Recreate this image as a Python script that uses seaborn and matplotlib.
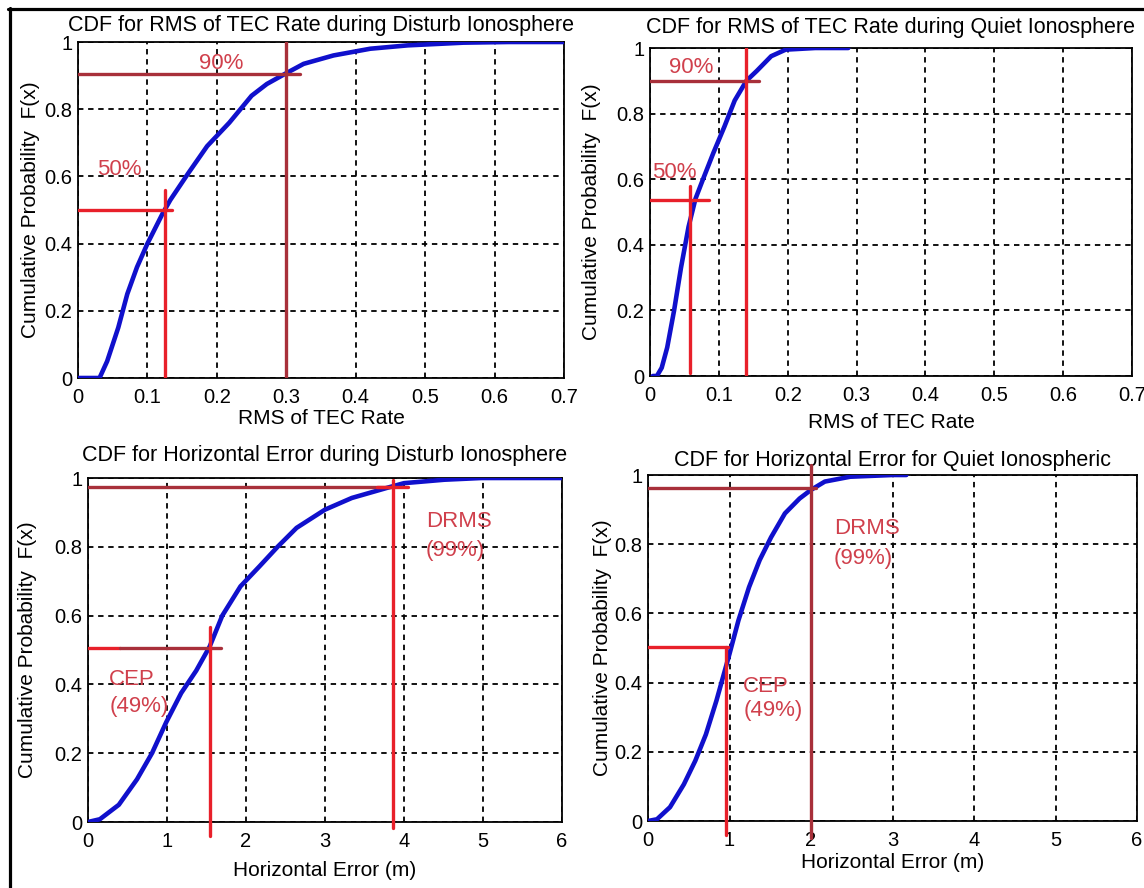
import numpy as np
import pandas as pd
import matplotlib
matplotlib.use("Agg")
import matplotlib.pyplot as plt
from matplotlib.lines import Line2D
import seaborn as sns

# ---------------- data ----------------
# Top-left: CDF of RMS of TEC rate, disturbed ionosphere
tec_dist_x = [0.0, 0.031, 0.042, 0.058, 0.071, 0.085, 0.100, 0.122, 0.133, 0.159, 0.186,
              0.218, 0.250, 0.272, 0.298, 0.325, 0.368, 0.421, 0.475, 0.555, 0.620, 0.700]
tec_dist_y = [0.0, 0.0, 0.05, 0.15, 0.25, 0.33, 0.40, 0.49, 0.53, 0.61, 0.69,
              0.76, 0.84, 0.875, 0.905, 0.935, 0.96, 0.98, 0.99, 0.998, 1.0, 1.0]
# Top-right: CDF of RMS of TEC rate, quiet ionosphere
tec_quiet_x = [0.004, 0.010, 0.017, 0.025, 0.035, 0.045, 0.056, 0.066, 0.077, 0.092, 0.108,
               0.123, 0.140, 0.155, 0.176, 0.197, 0.240, 0.288]
tec_quiet_y = [0.0, 0.0, 0.025, 0.087, 0.20, 0.33, 0.455, 0.54, 0.60, 0.68, 0.76,
               0.84, 0.90, 0.93, 0.975, 0.995, 1.0, 1.0]
# Bottom-left: CDF of horizontal error, disturbed ionosphere
he_dist_x = [0.0, 0.15, 0.39, 0.62, 0.81, 0.99, 1.18, 1.37, 1.54, 1.70, 1.93, 2.17, 2.40,
             2.64, 3.00, 3.34, 3.81, 4.00, 4.51, 4.98, 6.00]
he_dist_y = [0.0, 0.008, 0.05, 0.124, 0.20, 0.29, 0.375, 0.44, 0.51, 0.60, 0.685, 0.743, 0.80,
             0.855, 0.908, 0.942, 0.973, 0.985, 0.995, 1.0, 1.0]
# Bottom-right: CDF of horizontal error, quiet ionosphere
he_quiet_x = [0.0, 0.11, 0.27, 0.44, 0.58, 0.71, 0.84, 1.00, 1.11, 1.24, 1.37, 1.51, 1.68,
              1.86, 2.00, 2.17, 2.48, 3.00, 3.17]
he_quiet_y = [0.0, 0.005, 0.04, 0.106, 0.174, 0.25, 0.348, 0.483, 0.58, 0.676, 0.754, 0.82, 0.889,
              0.932, 0.957, 0.981, 0.995, 1.0, 1.0]

# Reference (percentile) markers: (x value, y value)
tec_dist_p50 = (0.125, 0.50)
tec_dist_p90 = (0.300, 0.905)
tec_quiet_p50 = (0.0575, 0.538)
tec_quiet_p90 = (0.1395, 0.898)
he_dist_cep = (1.545, 0.507)
he_dist_drms = (3.855, 0.974)
he_quiet_cep = (0.96, 0.504)
he_quiet_drms = (2.00, 0.961)

titles = ["CDF for RMS of TEC Rate during Disturb Ionosphere",
          "CDF for RMS of TEC Rate during Quiet Ionosphere",
          "CDF for Horizontal Error during Disturb Ionosphere",
          "CDF for Horizontal Error for Quiet Ionospheric"]
xlabels = ["RMS of TEC Rate", "RMS of TEC Rate", "Horizontal Error (m)", "Horizontal Error (m)"]
ylabel = "Cumulative Probability  F(x)"
tec_ticks = [0, 0.1, 0.2, 0.3, 0.4, 0.5, 0.6, 0.7]
tec_ticklabels = ["0", "0.1", "0.2", "0.3", "0.4", "0.5", "0.6", "0.7"]
he_ticks = [0, 1, 2, 3, 4, 5, 6]
he_ticklabels = ["0", "1", "2", "3", "4", "5", "6"]
y_ticks = [0, 0.2, 0.4, 0.6, 0.8, 1.0]
y_ticklabels = ["0", "0.2", "0.4", "0.6", "0.8", "1"]

# ---------------- style ----------------
sns.set_theme(style="white")
plt.rcParams['font.family'] = ['Liberation Sans', 'DejaVu Sans']

W, H = 1144, 888
fig = plt.figure(figsize=(W / 100, H / 100), dpi=100)
fig.patch.set_facecolor("white")

BLUE = "#1010CC"
RED = "#E8202A"
DRED = "#A8303A"
TXT = "#D0404C"
FS_TICK = 14.5
FS_LAB = 15
FS_TITLE = 15.5
FS_ANN = 16

# pixel boxes (left, top, right, bottom), title y, xlabel y, ylabel x
boxes = [
    dict(box=(78, 42, 564, 378), ty=25, xl=418, yl=31),
    dict(box=(650, 48, 1132, 376), ty=27, xl=422, yl=591),
    dict(box=(88, 478, 562, 822), ty=455, xl=870, yl=28),
    dict(box=(648, 475, 1137, 821), ty=460, xl=862, yl=603),
]


def make_ax(spec):
    l, t, r, b = spec["box"]
    ax = fig.add_axes([l / W, 1 - b / H, (r - l) / W, (b - t) / H])
    hpx = b - t
    wpx = r - l
    ax.set_facecolor("white")
    for s in ax.spines.values():
        s.set_color("black")
        s.set_linewidth(1.3)
    ax.grid(True, color="black", linestyle=(0, (3, 2.6)), linewidth=1.3)
    ax.set_axisbelow(True)
    ax.tick_params(axis="both", direction="in", length=0, labelsize=FS_TICK, colors="black")
    ax.tick_params(axis="x", pad=7)
    ax.tick_params(axis="y", pad=4)
    ax._title_y = 1 + (t - spec["ty"]) / hpx
    ax._xl_y = -(spec["xl"] - b) / hpx
    ax._yl_x = -(l - spec["yl"]) / wpx
    return ax


def finish(ax, title, xlabel, xticks, xticklabels, xmax):
    ax.set_xlim(0, xmax)
    ax.set_ylim(0, 1)
    ax.set_xticks(xticks)
    ax.set_xticklabels(xticklabels)
    ax.set_yticks(y_ticks)
    ax.set_yticklabels(y_ticklabels)
    ax.text(0.5, ax._title_y, title, transform=ax.transAxes, fontsize=FS_TITLE,
            ha="center", va="center", color="black")
    ax.set_xlabel(xlabel, fontsize=FS_LAB, color="black")
    ax.xaxis.set_label_coords(0.5, ax._xl_y)
    ax.xaxis.label.set_va("center")
    ax.set_ylabel(ylabel, fontsize=FS_LAB, color="black")
    ax.yaxis.set_label_coords(ax._yl_x, 0.5)
    ax.yaxis.label.set_va("center")


def curve(ax, xs, ys):
    df = pd.DataFrame({"x": xs, "y": ys})
    sns.lineplot(data=df, x="x", y="y", ax=ax, color=BLUE, linewidth=3.3, sort=False,
                 estimator=None, zorder=3)


def ann(ax, x, y, s, ha="left"):
    ax.text(x, y, s, color=TXT, fontsize=FS_ANN, ha=ha, va="center", zorder=2)


LW = 2.4

# ---- Top-left ----
ax = make_ax(boxes[0])
curve(ax, tec_dist_x, tec_dist_y)
x50, y50 = tec_dist_p50
x90, y90 = tec_dist_p90
ann(ax, 0.206, 0.935, "90%", ha="center")
ann(ax, 0.060, 0.62, "50%", ha="center")
ax.plot([0, x90 + 0.02], [y90, y90], color=DRED, lw=LW, zorder=4)
ax.plot([x90, x90], [0, 1.0], color=DRED, lw=LW, zorder=4)
ax.plot([0, x50 + 0.01], [y50, y50], color=RED, lw=LW, zorder=4)
ax.plot([x50, x50], [0, y50 + 0.06], color=RED, lw=LW, zorder=4)
finish(ax, titles[0], xlabels[0], tec_ticks, tec_ticklabels, 0.7)

# ---- Top-right ----
ax = make_ax(boxes[1])
curve(ax, tec_quiet_x, tec_quiet_y)
x50, y50 = tec_quiet_p50
x90, y90 = tec_quiet_p90
ann(ax, 0.060, 0.94, "90%", ha="center")
ann(ax, 0.036, 0.62, "50%", ha="center")
ax.plot([0, x90 + 0.019], [y90, y90], color=DRED, lw=LW, zorder=4)
ax.plot([x90, x90], [0, 1.0], color=RED, lw=LW, zorder=4)
ax.plot([0, x50 + 0.028], [y50, y50], color=RED, lw=LW, zorder=4)
ax.plot([x50, x50], [0.01, y50 + 0.04], color=RED, lw=LW, zorder=4)
finish(ax, titles[1], xlabels[1], tec_ticks, tec_ticklabels, 0.7)

# ---- Bottom-left ----
ax = make_ax(boxes[2])
curve(ax, he_dist_x, he_dist_y)
xc, yc = he_dist_cep
xd, yd = he_dist_drms
ann(ax, 4.28, 0.874, "DRMS")
ann(ax, 4.28, 0.79, "(99%)")
ann(ax, 0.27, 0.414, "CEP")
ann(ax, 0.27, 0.337, "(49%)")
ax.plot([0, xd], [yd, yd], color=DRED, lw=LW, zorder=4)
ax.plot([xd - 0.2, xd + 0.2], [yd, yd], color=RED, lw=LW, zorder=4)
ax.plot([xd, xd], [-0.016, 0.995], color=RED, lw=LW, zorder=4, clip_on=False)
ax.plot([0, 0.4], [yc, yc], color=RED, lw=LW, zorder=4)
ax.plot([0.4, xc + 0.14], [yc, yc], color=DRED, lw=LW, zorder=4)
ax.plot([xc, xc], [-0.04, yc + 0.06], color=RED, lw=LW, zorder=4, clip_on=False)
finish(ax, titles[2], xlabels[2], he_ticks, he_ticklabels, 6)

# ---- Bottom-right ----
ax = make_ax(boxes[3])
curve(ax, he_quiet_x, he_quiet_y)
xc, yc = he_quiet_cep
xd, yd = he_quiet_drms
ann(ax, 2.28, 0.845, "DRMS")
ann(ax, 2.28, 0.758, "(99%)")
ann(ax, 1.17, 0.39, "CEP")
ann(ax, 1.17, 0.319, "(49%)")
ax.plot([0, xc + 0.02], [yc, yc], color=RED, lw=LW, zorder=4)
ax.plot([xc, xc], [-0.04, yc], color=RED, lw=LW, zorder=4, clip_on=False)
ax.plot([0, xd + 0.06], [yd, yd], color=DRED, lw=LW, zorder=4)
ax.plot([xd, xd], [-0.05, 1.03], color=DRED, lw=LW, zorder=4, clip_on=False)
finish(ax, titles[3], xlabels[3], he_ticks, he_ticklabels, 6)

# figure border (top and left edges, as in the source image)
fig.add_artist(Line2D([9.5 / W, 9.5 / W], [0, 1 - 8 / H], transform=fig.transFigure,
                      color="black", lw=2.3))
fig.add_artist(Line2D([8 / W, 1], [1 - 9.5 / H, 1 - 9.5 / H], transform=fig.transFigure,
                      color="black", lw=2.3))

fig.savefig("out.png", dpi=100, facecolor="white")
